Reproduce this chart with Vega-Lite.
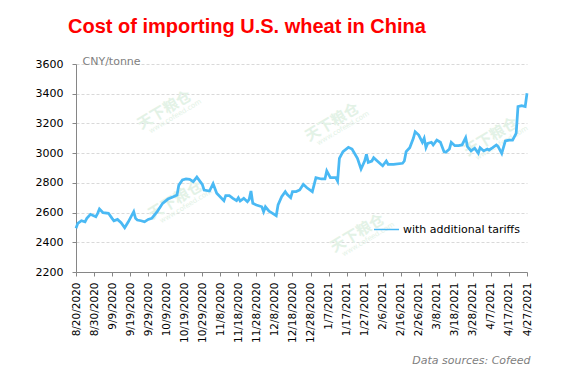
{
  "$schema": "https://vega.github.io/schema/vega-lite/v6.json",
  "width": 451,
  "height": 208,
  "autosize": "none",
  "padding": {"left": 76, "top": 64, "right": 39, "bottom": 108},
  "background": "white",
  "config": {
    "view": {"stroke": null},
    "font": "DejaVu Sans"
  },
  "title": {
    "text": "Cost of importing U.S. wheat in China",
    "anchor": "start",
    "frame": "group",
    "dx": -8,
    "offset": 2,
    "baseline": "alphabetic",
    "font": "Liberation Sans",
    "fontSize": 20,
    "fontWeight": "bold",
    "color": "#FF0000"
  },
  "datasets": {
    "price": [
      {"date": "2020-08-20", "value": 2494, "series": "with additional tariffs"},
      {"date": "2020-08-21", "value": 2528, "series": "with additional tariffs"},
      {"date": "2020-08-23", "value": 2545, "series": "with additional tariffs"},
      {"date": "2020-08-25", "value": 2538, "series": "with additional tariffs"},
      {"date": "2020-08-26", "value": 2561, "series": "with additional tariffs"},
      {"date": "2020-08-28", "value": 2588, "series": "with additional tariffs"},
      {"date": "2020-08-31", "value": 2572, "series": "with additional tariffs"},
      {"date": "2020-09-01", "value": 2595, "series": "with additional tariffs"},
      {"date": "2020-09-02", "value": 2624, "series": "with additional tariffs"},
      {"date": "2020-09-04", "value": 2599, "series": "with additional tariffs"},
      {"date": "2020-09-07", "value": 2595, "series": "with additional tariffs"},
      {"date": "2020-09-09", "value": 2561, "series": "with additional tariffs"},
      {"date": "2020-09-10", "value": 2545, "series": "with additional tariffs"},
      {"date": "2020-09-12", "value": 2554, "series": "with additional tariffs"},
      {"date": "2020-09-14", "value": 2532, "series": "with additional tariffs"},
      {"date": "2020-09-16", "value": 2498, "series": "with additional tariffs"},
      {"date": "2020-09-18", "value": 2538, "series": "with additional tariffs"},
      {"date": "2020-09-21", "value": 2606, "series": "with additional tariffs"},
      {"date": "2020-09-22", "value": 2561, "series": "with additional tariffs"},
      {"date": "2020-09-23", "value": 2550, "series": "with additional tariffs"},
      {"date": "2020-09-25", "value": 2545, "series": "with additional tariffs"},
      {"date": "2020-09-27", "value": 2538, "series": "with additional tariffs"},
      {"date": "2020-09-29", "value": 2554, "series": "with additional tariffs"},
      {"date": "2020-10-01", "value": 2561, "series": "with additional tariffs"},
      {"date": "2020-10-04", "value": 2606, "series": "with additional tariffs"},
      {"date": "2020-10-07", "value": 2662, "series": "with additional tariffs"},
      {"date": "2020-10-10", "value": 2691, "series": "with additional tariffs"},
      {"date": "2020-10-13", "value": 2707, "series": "with additional tariffs"},
      {"date": "2020-10-15", "value": 2718, "series": "with additional tariffs"},
      {"date": "2020-10-16", "value": 2785, "series": "with additional tariffs"},
      {"date": "2020-10-18", "value": 2819, "series": "with additional tariffs"},
      {"date": "2020-10-20", "value": 2826, "series": "with additional tariffs"},
      {"date": "2020-10-22", "value": 2824, "series": "with additional tariffs"},
      {"date": "2020-10-24", "value": 2808, "series": "with additional tariffs"},
      {"date": "2020-10-26", "value": 2839, "series": "with additional tariffs"},
      {"date": "2020-10-29", "value": 2790, "series": "with additional tariffs"},
      {"date": "2020-10-30", "value": 2752, "series": "with additional tariffs"},
      {"date": "2020-11-02", "value": 2745, "series": "with additional tariffs"},
      {"date": "2020-11-04", "value": 2794, "series": "with additional tariffs"},
      {"date": "2020-11-06", "value": 2730, "series": "with additional tariffs"},
      {"date": "2020-11-10", "value": 2680, "series": "with additional tariffs"},
      {"date": "2020-11-11", "value": 2714, "series": "with additional tariffs"},
      {"date": "2020-11-13", "value": 2714, "series": "with additional tariffs"},
      {"date": "2020-11-15", "value": 2696, "series": "with additional tariffs"},
      {"date": "2020-11-17", "value": 2680, "series": "with additional tariffs"},
      {"date": "2020-11-18", "value": 2700, "series": "with additional tariffs"},
      {"date": "2020-11-19", "value": 2678, "series": "with additional tariffs"},
      {"date": "2020-11-21", "value": 2696, "series": "with additional tariffs"},
      {"date": "2020-11-23", "value": 2673, "series": "with additional tariffs"},
      {"date": "2020-11-24", "value": 2689, "series": "with additional tariffs"},
      {"date": "2020-11-25", "value": 2745, "series": "with additional tariffs"},
      {"date": "2020-11-26", "value": 2662, "series": "with additional tariffs"},
      {"date": "2020-11-28", "value": 2651, "series": "with additional tariffs"},
      {"date": "2020-12-01", "value": 2639, "series": "with additional tariffs"},
      {"date": "2020-12-02", "value": 2606, "series": "with additional tariffs"},
      {"date": "2020-12-03", "value": 2639, "series": "with additional tariffs"},
      {"date": "2020-12-05", "value": 2610, "series": "with additional tariffs"},
      {"date": "2020-12-07", "value": 2595, "series": "with additional tariffs"},
      {"date": "2020-12-09", "value": 2579, "series": "with additional tariffs"},
      {"date": "2020-12-10", "value": 2651, "series": "with additional tariffs"},
      {"date": "2020-12-12", "value": 2707, "series": "with additional tariffs"},
      {"date": "2020-12-14", "value": 2741, "series": "with additional tariffs"},
      {"date": "2020-12-15", "value": 2723, "series": "with additional tariffs"},
      {"date": "2020-12-17", "value": 2700, "series": "with additional tariffs"},
      {"date": "2020-12-18", "value": 2741, "series": "with additional tariffs"},
      {"date": "2020-12-20", "value": 2741, "series": "with additional tariffs"},
      {"date": "2020-12-22", "value": 2752, "series": "with additional tariffs"},
      {"date": "2020-12-24", "value": 2790, "series": "with additional tariffs"},
      {"date": "2020-12-26", "value": 2767, "series": "with additional tariffs"},
      {"date": "2020-12-29", "value": 2741, "series": "with additional tariffs"},
      {"date": "2020-12-31", "value": 2835, "series": "with additional tariffs"},
      {"date": "2021-01-03", "value": 2826, "series": "with additional tariffs"},
      {"date": "2021-01-05", "value": 2826, "series": "with additional tariffs"},
      {"date": "2021-01-06", "value": 2880, "series": "with additional tariffs"},
      {"date": "2021-01-08", "value": 2835, "series": "with additional tariffs"},
      {"date": "2021-01-11", "value": 2835, "series": "with additional tariffs"},
      {"date": "2021-01-12", "value": 2812, "series": "with additional tariffs"},
      {"date": "2021-01-13", "value": 2965, "series": "with additional tariffs"},
      {"date": "2021-01-15", "value": 3010, "series": "with additional tariffs"},
      {"date": "2021-01-18", "value": 3039, "series": "with additional tariffs"},
      {"date": "2021-01-20", "value": 3028, "series": "with additional tariffs"},
      {"date": "2021-01-23", "value": 2965, "series": "with additional tariffs"},
      {"date": "2021-01-25", "value": 2893, "series": "with additional tariffs"},
      {"date": "2021-01-27", "value": 2947, "series": "with additional tariffs"},
      {"date": "2021-01-28", "value": 2992, "series": "with additional tariffs"},
      {"date": "2021-01-29", "value": 2938, "series": "with additional tariffs"},
      {"date": "2021-01-31", "value": 2947, "series": "with additional tariffs"},
      {"date": "2021-02-01", "value": 2969, "series": "with additional tariffs"},
      {"date": "2021-02-03", "value": 2947, "series": "with additional tariffs"},
      {"date": "2021-02-05", "value": 2925, "series": "with additional tariffs"},
      {"date": "2021-02-06", "value": 2915, "series": "with additional tariffs"},
      {"date": "2021-02-08", "value": 2947, "series": "with additional tariffs"},
      {"date": "2021-02-09", "value": 2925, "series": "with additional tariffs"},
      {"date": "2021-02-12", "value": 2925, "series": "with additional tariffs"},
      {"date": "2021-02-17", "value": 2932, "series": "with additional tariffs"},
      {"date": "2021-02-18", "value": 2947, "series": "with additional tariffs"},
      {"date": "2021-02-19", "value": 3010, "series": "with additional tariffs"},
      {"date": "2021-02-21", "value": 3037, "series": "with additional tariffs"},
      {"date": "2021-02-23", "value": 3100, "series": "with additional tariffs"},
      {"date": "2021-02-24", "value": 3144, "series": "with additional tariffs"},
      {"date": "2021-02-26", "value": 3122, "series": "with additional tariffs"},
      {"date": "2021-02-28", "value": 3073, "series": "with additional tariffs"},
      {"date": "2021-03-01", "value": 3100, "series": "with additional tariffs"},
      {"date": "2021-03-02", "value": 3037, "series": "with additional tariffs"},
      {"date": "2021-03-03", "value": 3066, "series": "with additional tariffs"},
      {"date": "2021-03-05", "value": 3073, "series": "with additional tariffs"},
      {"date": "2021-03-06", "value": 3055, "series": "with additional tariffs"},
      {"date": "2021-03-08", "value": 3088, "series": "with additional tariffs"},
      {"date": "2021-03-10", "value": 3073, "series": "with additional tariffs"},
      {"date": "2021-03-12", "value": 3010, "series": "with additional tariffs"},
      {"date": "2021-03-13", "value": 3006, "series": "with additional tariffs"},
      {"date": "2021-03-15", "value": 3028, "series": "with additional tariffs"},
      {"date": "2021-03-16", "value": 3073, "series": "with additional tariffs"},
      {"date": "2021-03-18", "value": 3050, "series": "with additional tariffs"},
      {"date": "2021-03-20", "value": 3050, "series": "with additional tariffs"},
      {"date": "2021-03-22", "value": 3055, "series": "with additional tariffs"},
      {"date": "2021-03-24", "value": 3104, "series": "with additional tariffs"},
      {"date": "2021-03-25", "value": 3044, "series": "with additional tariffs"},
      {"date": "2021-03-27", "value": 3015, "series": "with additional tariffs"},
      {"date": "2021-03-29", "value": 3033, "series": "with additional tariffs"},
      {"date": "2021-03-31", "value": 2999, "series": "with additional tariffs"},
      {"date": "2021-04-01", "value": 3037, "series": "with additional tariffs"},
      {"date": "2021-04-03", "value": 3015, "series": "with additional tariffs"},
      {"date": "2021-04-05", "value": 3028, "series": "with additional tariffs"},
      {"date": "2021-04-06", "value": 3021, "series": "with additional tariffs"},
      {"date": "2021-04-08", "value": 3037, "series": "with additional tariffs"},
      {"date": "2021-04-10", "value": 3055, "series": "with additional tariffs"},
      {"date": "2021-04-11", "value": 3044, "series": "with additional tariffs"},
      {"date": "2021-04-13", "value": 2999, "series": "with additional tariffs"},
      {"date": "2021-04-15", "value": 3082, "series": "with additional tariffs"},
      {"date": "2021-04-17", "value": 3088, "series": "with additional tariffs"},
      {"date": "2021-04-19", "value": 3088, "series": "with additional tariffs"},
      {"date": "2021-04-21", "value": 3133, "series": "with additional tariffs"},
      {"date": "2021-04-22", "value": 3313, "series": "with additional tariffs"},
      {"date": "2021-04-24", "value": 3319, "series": "with additional tariffs"},
      {"date": "2021-04-26", "value": 3313, "series": "with additional tariffs"},
      {"date": "2021-04-27", "value": 3403, "series": "with additional tariffs"}
    ],
    "marks": [
      {"date": "2020-10-08", "value": 3290, "label": "天下粮仓", "site": "www.cofeed.com"},
      {"date": "2021-01-09", "value": 3209, "label": "天下粮仓", "site": "www.cofeed.com"},
      {"date": "2021-04-07", "value": 3110, "label": "天下粮仓", "site": "www.cofeed.com"},
      {"date": "2020-10-14", "value": 2685, "label": "天下粮仓", "site": "www.cofeed.com"},
      {"date": "2021-01-23", "value": 2462, "label": "天下粮仓", "site": "www.cofeed.com"}
    ]
  },
  "encoding": {
    "x": {
      "field": "date",
      "type": "temporal",
      "scale": {
        "type": "utc",
        "nice": false,
        "domain": [
          {"year": 2020, "month": 8, "date": 20, "utc": true},
          {"year": 2021, "month": 4, "date": 27, "utc": true}
        ]
      },
      "axis": {
        "values": [
          {"year": 2020, "month": 8, "date": 20, "utc": true},
          {"year": 2020, "month": 8, "date": 30, "utc": true},
          {"year": 2020, "month": 9, "date": 9, "utc": true},
          {"year": 2020, "month": 9, "date": 19, "utc": true},
          {"year": 2020, "month": 9, "date": 29, "utc": true},
          {"year": 2020, "month": 10, "date": 9, "utc": true},
          {"year": 2020, "month": 10, "date": 19, "utc": true},
          {"year": 2020, "month": 10, "date": 29, "utc": true},
          {"year": 2020, "month": 11, "date": 8, "utc": true},
          {"year": 2020, "month": 11, "date": 18, "utc": true},
          {"year": 2020, "month": 11, "date": 28, "utc": true},
          {"year": 2020, "month": 12, "date": 8, "utc": true},
          {"year": 2020, "month": 12, "date": 18, "utc": true},
          {"year": 2020, "month": 12, "date": 28, "utc": true},
          {"year": 2021, "month": 1, "date": 7, "utc": true},
          {"year": 2021, "month": 1, "date": 17, "utc": true},
          {"year": 2021, "month": 1, "date": 27, "utc": true},
          {"year": 2021, "month": 2, "date": 6, "utc": true},
          {"year": 2021, "month": 2, "date": 16, "utc": true},
          {"year": 2021, "month": 2, "date": 26, "utc": true},
          {"year": 2021, "month": 3, "date": 8, "utc": true},
          {"year": 2021, "month": 3, "date": 18, "utc": true},
          {"year": 2021, "month": 3, "date": 28, "utc": true},
          {"year": 2021, "month": 4, "date": 7, "utc": true},
          {"year": 2021, "month": 4, "date": 17, "utc": true},
          {"year": 2021, "month": 4, "date": 27, "utc": true}
        ],
        "labelExpr": "utcFormat(datum.value, '%-m/%-d/%Y')",
        "labelAngle": 270,
        "labelFont": "DejaVu Sans",
        "labelFontSize": 10.5,
        "labelColor": "#000000",
        "labelPadding": 6,
        "labelOverlap": false,
        "labelFlush": false,
        "grid": false,
        "domainColor": "#868686",
        "domainWidth": 1,
        "tickColor": "#868686",
        "tickSize": 4,
        "title": "Data sources: Cofeed",
        "titleFont": "DejaVu Sans",
        "titleFontSize": 11,
        "titleFontStyle": "italic",
        "titleFontWeight": "normal",
        "titleColor": "#808080",
        "titleAlign": "right",
        "titleAnchor": "end",
        "titleX": 454,
        "titleY": 91,
        "titleBaseline": "alphabetic"
      }
    },
    "y": {
      "field": "value",
      "type": "quantitative",
      "scale": {"domain": [2200, 3600], "nice": false, "zero": false},
      "axis": {
        "values": [2200, 2400, 2600, 2800, 3000, 3200, 3400, 3600],
        "format": "d",
        "labelFont": "DejaVu Sans",
        "labelFontSize": 11,
        "labelColor": "#000000",
        "labelPadding": 9,
        "domainColor": "#868686",
        "domainWidth": 1,
        "tickColor": "#868686",
        "tickSize": 4,
        "grid": true,
        "gridColor": "#D9D9D9",
        "gridDash": [3, 2],
        "gridWidth": 1,
        "title": "CNY/tonne",
        "titleFont": "DejaVu Sans",
        "titleFontSize": 11,
        "titleFontWeight": "normal",
        "titleColor": "#808080",
        "titleAngle": 0,
        "titleAlign": "left",
        "titleX": 6,
        "titleY": 0,
        "titleBaseline": "alphabetic"
      }
    }
  },
  "layer": [
    {
      "data": {"name": "marks"},
      "mark": {
        "type": "text",
        "angle": -31,
        "font": "Noto Sans CJK SC",
        "fontSize": 15,
        "fontWeight": "bold",
        "color": "#E3F2E6"
      },
      "encoding": {"text": {"field": "label"}}
    },
    {
      "data": {"name": "marks"},
      "mark": {
        "type": "text",
        "angle": -31,
        "font": "DejaVu Sans",
        "fontSize": 7,
        "dx": 6,
        "dy": 11,
        "color": "#E3F2E6"
      },
      "encoding": {"text": {"field": "site"}}
    },
    {
      "data": {"name": "price"},
      "mark": {"type": "line", "strokeWidth": 2.75, "interpolate": "linear"},
      "encoding": {
        "color": {
          "field": "series",
          "type": "nominal",
          "scale": {"range": ["#4AB9F4"]},
          "legend": {
            "orient": "none",
            "legendX": 297,
            "legendY": 152,
            "title": null,
            "padding": 0,
            "symbolType": "stroke",
            "symbolSize": 625,
            "symbolStrokeWidth": 1.5,
            "labelFont": "DejaVu Sans",
            "labelFontSize": 11,
            "labelColor": "#000000",
            "labelOffset": 3
          }
        }
      }
    }
  ]
}
